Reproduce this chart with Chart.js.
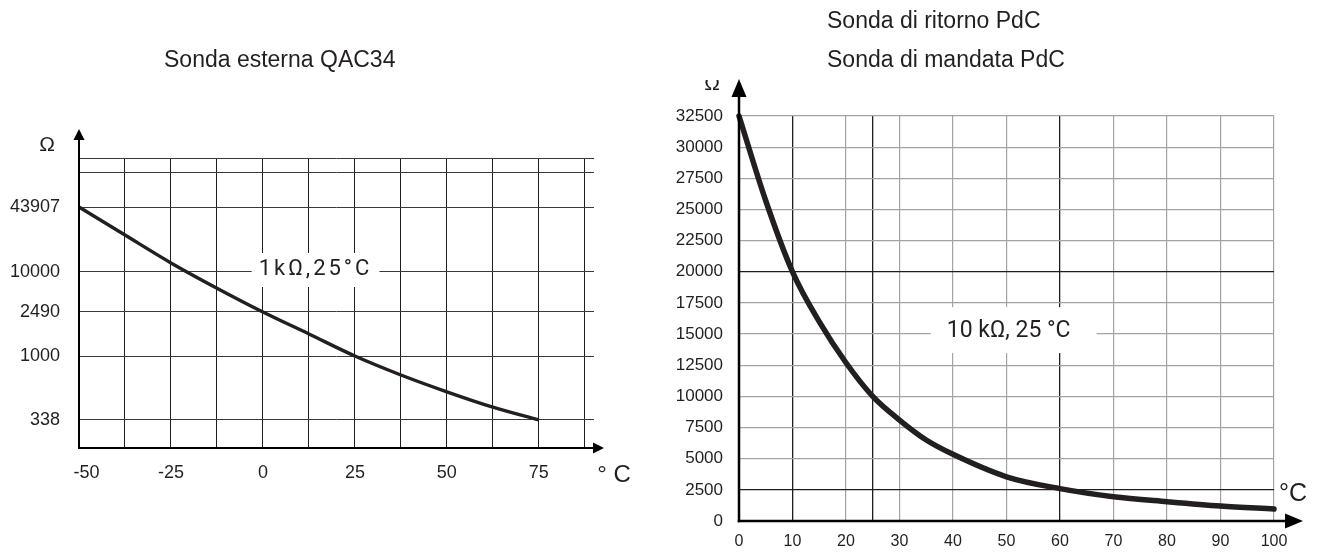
<!DOCTYPE html>
<html>
<head>
<meta charset="utf-8">
<title>Curve sonde</title>
<script src="https://cdn.jsdelivr.net/npm/chart.js@4.4.1/dist/chart.umd.min.js"></script>
<style>
  body { margin: 0; background: #fff; width: 1324px; height: 555px; overflow: hidden; position: relative;
         font-family: "Liberation Sans", Arial, sans-serif; color: #231f20; }
  .wrap { position: absolute; left: 0; top: 0; width: 1324px; height: 555px; }
  .title { position: absolute; font-size: 23px; line-height: 23px; white-space: nowrap; }
</style>
</head>
<body>
<div class="wrap"><canvas id="qacChart"></canvas></div>
<div class="wrap"><canvas id="pdcChart"></canvas></div>
<div class="title" style="left:164px; top:48px;">Sonda esterna QAC34</div>
<div class="title" style="left:827px; top:9px;">Sonda di ritorno PdC</div>
<div class="title" style="left:827px; top:48px;">Sonda di mandata PdC</div>

<script>
// QAC34 outdoor sensor (1 kOhm @ 25 °C)
const qacTemps = [-50, -37.5, -25, -12.5, 0, 12.5, 25, 37.5, 50, 62.5, 75];
const qacOhms = [43907, 23200, 12300, 5700, 2490, 1580, 1000, 725, 545, 420, 338];
const qacYTicks = [338, 1000, 2490, 10000, 43907];
const qacXTicks = [-50, -25, 0, 25, 50, 75];
const qacXGrid = [-50, -37.5, -25, -12.5, 0, 12.5, 25, 37.5, 50, 62.5, 75, 87.5];

// PdC return / flow sensor (10 kOhm @ 25 °C)
const pdcTemps = [0, 5, 10, 15, 20, 25, 30, 35, 40, 50, 60, 70, 80, 90, 100];
const pdcOhms = [32500, 25700, 20000, 16000, 12700, 10000, 8100, 6500, 5350, 3550, 2600, 1950, 1550, 1200, 960];
const pdcXTicks = [0, 10, 20, 30, 40, 50, 60, 70, 80, 90, 100];
const pdcXGrid = [0, 10, 20, 25, 30, 40, 50, 60, 70, 80, 90, 100];
const pdcDarkX = [10, 25, 60];
const pdcDarkY = [2500, 20000];

const INK = "#231f20";
Chart.defaults.font.family = '"Liberation Sans", Arial, sans-serif';
Chart.defaults.color = INK;

// the QAC34 sheet uses an uneven ohm axis: log-interpolate between fixed rows
class StopScale extends Chart.LinearScale {
  buildTicks() {
    return this.options.stops.filter(s => s.grid).map(s => ({ value: s.value }));
  }
  getPixelForValue(value) {
    const stops = this.options.stops;
    const lv = Math.log10(value);
    let i = 1;
    while (i < stops.length - 1 && lv > Math.log10(stops[i].value)) i++;
    const a = stops[i - 1], b = stops[i];
    const la = Math.log10(a.value), lb = Math.log10(b.value);
    return this.getPixelForDecimal(a.at + (lv - la) / (lb - la) * (b.at - a.at));
  }
}
StopScale.id = "stops";
StopScale.defaults = {};
Chart.register(StopScale);

function arrow(ctx, x1, y1, x2, y2, len, half) {
  const ang = Math.atan2(y2 - y1, x2 - x1);
  const bx = x2 - Math.cos(ang) * len, by = y2 - Math.sin(ang) * len;
  ctx.beginPath();
  ctx.moveTo(x1, y1);
  ctx.lineTo(bx, by);
  ctx.stroke();
  ctx.beginPath();
  ctx.moveTo(x2, y2);
  ctx.lineTo(bx - Math.sin(ang) * half, by + Math.cos(ang) * half);
  ctx.lineTo(bx + Math.sin(ang) * half, by - Math.cos(ang) * half);
  ctx.closePath();
  ctx.fill();
}

// white label box, arrowed axes and unit labels
const sketchPlugin = {
  id: "sketch",
  beforeDatasetsDraw(chart, args, opts) {
    const { ctx, scales: { x, y } } = chart;
    const a = opts.label;
    const cx = x.getPixelForValue(a.x), cy = y.getPixelForValue(a.y) + a.dy;
    ctx.save();
    ctx.font = a.font;
    ctx.letterSpacing = a.spacing;
    const w = ctx.measureText(a.text).width;
    ctx.fillStyle = "#fff";
    ctx.fillRect(cx - w / 2 - a.padL, cy - a.h / 2 + a.boxDy, w + a.padL + a.padR, a.h);
    ctx.fillStyle = INK;
    ctx.textAlign = "center";
    ctx.textBaseline = "middle";
    ctx.fillText(a.text, cx, cy);
    ctx.restore();
  },
  afterDraw(chart, args, opts) {
    const { ctx, chartArea: c } = chart;
    const ax = opts.axes;
    ctx.save();
    ctx.strokeStyle = "#000";
    ctx.fillStyle = "#000";
    ctx.lineWidth = ax.width;
    arrow(ctx, c.left, c.bottom + ax.width / 2, c.left, c.top - ax.up, ax.len, ax.half);
    arrow(ctx, c.left - ax.width / 2, c.bottom, c.right + ax.over, c.bottom, ax.len, ax.half);
    ctx.fillStyle = INK;
    ctx.textAlign = "center";
    ctx.textBaseline = "middle";
    opts.units.forEach(u => {
      ctx.save();
      if (u.clipTop) {
        ctx.beginPath();
        ctx.rect(0, u.clipTop, chart.width, chart.height);
        ctx.clip();
      }
      ctx.font = u.font;
      ctx.fillText(u.text, (u.fromRight ? c.right : c.left) + u.dx, (u.fromBottom ? c.bottom : c.top) + u.dy);
      ctx.restore();
    });
    ctx.restore();
  }
};

new Chart(document.getElementById("qacChart"), {
  type: "line",
  data: {
    datasets: [{
      data: qacTemps.map((t, i) => ({ x: t, y: qacOhms[i] })),
      borderColor: INK,
      borderWidth: 3.4,
      pointRadius: 0,
      tension: 0.35,
      clip: false
    }]
  },
  options: {
    responsive: true,
    maintainAspectRatio: false,
    animation: false,
    events: [],
    layout: { padding: { left: 0, top: 158, right: 730, bottom: 0 } },
    plugins: {
      legend: { display: false },
      tooltip: { enabled: false },
      sketch: {
        label: { text: "1k\u03A9,25\u00B0C", x: 14.3, y: 10000, dy: -2, boxDy: 0, padL: 7, padR: 7, h: 34,
                 font: '22px Roboto', spacing: "3px" },
        axes: { width: 2, up: 29, over: 10, len: 11, half: 5.5 },
        units: [
          { text: "\u03A9", font: '21px "Liberation Sans"', dx: -32, dy: -13 },
          { text: "\u00B0 C", font: '24px "Liberation Sans"', fromRight: true, fromBottom: true, dx: 20, dy: 27 }
        ]
      }
    },
    scales: {
      x: {
        type: "linear",
        min: -50,
        max: 90,
        afterBuildTicks: s => { s.ticks = qacXGrid.map(v => ({ value: v })); },
        afterFit: s => { s.height = 107; },
        ticks: {
          font: { size: 18 },
          padding: 14,
          maxRotation: 0,
          autoSkip: false,
          // first label sits just right of the axis on the sheet
          callback: v => (v === qacXTicks[0] ? "   " + v : qacXTicks.includes(v) ? String(v) : "")
        },
        grid: { drawTicks: false, color: "#1e1e1e", lineWidth: 1 },
        border: { display: false }
      },
      y: {
        type: "stops",
        stops: [
          { value: 150, at: 0 },
          { value: 338, at: 0.0966, grid: true },
          { value: 1000, at: 0.3172, grid: true },
          { value: 2490, at: 0.469, grid: true },
          { value: 10000, at: 0.6069, grid: true },
          { value: 43907, at: 0.831, grid: true },
          { value: 100000, at: 0.9483, grid: true },
          { value: 300000, at: 1 }
        ],
        afterFit: s => { s.width = 79; },
        ticks: {
          font: { size: 18 },
          padding: 19,
          autoSkip: false,
          callback: v => (qacYTicks.includes(v) ? String(v) : "")
        },
        grid: { drawTicks: false, color: "#3a3a3a", lineWidth: 1 },
        border: { display: false }
      }
    }
  },
  plugins: [sketchPlugin]
});

new Chart(document.getElementById("pdcChart"), {
  type: "line",
  data: {
    datasets: [{
      data: pdcTemps.map((t, i) => ({ x: t, y: pdcOhms[i] })),
      borderColor: INK,
      borderWidth: 5.5,
      borderCapStyle: "round",
      pointRadius: 0,
      cubicInterpolationMode: "monotone",
      clip: false
    }]
  },
  options: {
    responsive: true,
    maintainAspectRatio: false,
    animation: false,
    events: [],
    layout: { padding: { left: 0, top: 116, right: 50, bottom: 0 } },
    plugins: {
      legend: { display: false },
      tooltip: { enabled: false },
      sketch: {
        label: { text: "10 k\u03A9, 25 \u00B0C", x: 50.4, y: 15000, dy: -3, boxDy: -1, padL: 16, padR: 26, h: 46,
                 font: '23px Roboto', spacing: "0px" },
        axes: { width: 2.5, up: 37, over: 29, len: 18, half: 7.5 },
        units: [
          { text: "\u03A9", font: '21px "Liberation Sans"', dx: -27, dy: -32, clipTop: 80 },
          { text: "\u00B0C", font: '25px "Liberation Sans"', fromRight: true, fromBottom: true, dx: 19, dy: -27 }
        ]
      }
    },
    scales: {
      x: {
        type: "linear",
        min: 0,
        max: 100,
        afterBuildTicks: s => { s.ticks = pdcXGrid.map(v => ({ value: v })); },
        afterFit: s => { s.height = 34; },
        ticks: {
          font: { size: 16 },
          padding: 11,
          maxRotation: 0,
          autoSkip: false,
          callback: v => (pdcXTicks.includes(v) ? String(v) : "")
        },
        grid: {
          drawTicks: false,
          color: c => (pdcDarkX.includes(c.tick.value) ? "#1e1e1e" : "#a3a3a3"),
          lineWidth: c => (pdcDarkX.includes(c.tick.value) ? 1.3 : 1.2)
        },
        border: { display: false }
      },
      y: {
        type: "linear",
        min: 0,
        max: 32500,
        afterFit: s => { s.width = 739; },
        ticks: { stepSize: 2500, font: { size: 17 }, padding: 16, autoSkip: false, callback: v => String(v) },
        grid: {
          drawTicks: false,
          color: c => (pdcDarkY.includes(c.tick.value) ? "#1e1e1e" : "#a3a3a3"),
          lineWidth: c => (pdcDarkY.includes(c.tick.value) ? 1.3 : 1.2)
        },
        border: { display: false }
      }
    }
  },
  plugins: [sketchPlugin]
});
</script>
</body>
</html>
